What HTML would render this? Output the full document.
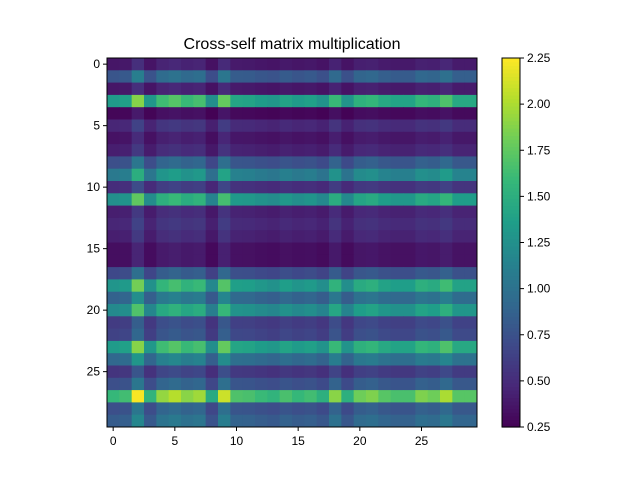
<!DOCTYPE html>
<html><head><meta charset="utf-8"><style>
body{margin:0;background:#fff;font-family:"Liberation Sans",sans-serif;}
svg text{font-family:"Liberation Sans",sans-serif;fill:#000;}
</style></head><body>
<svg id="chart" width="640" height="480" xmlns="http://www.w3.org/2000/svg">
<text x="292" y="49" font-size="16" text-anchor="middle">Cross-self matrix multiplication</text>
<g id="cells"></g><g id="axes"></g><g id="cbar"></g>
</svg>
<script>
const rowLevels=[0.4,0.85,0.4,1.45,0.3,0.5,0.38,0.45,0.8,1.15,0.55,1.35,0.45,0.5,0.45,0.35,0.35,0.75,1.4,0.95,1.3,0.65,0.7,1.45,1.0,0.6,0.8,1.72,0.8,0.9];
const colLevels=[0.92,0.95,1.3,0.9,1.12,1.18,1.1,1.14,0.85,1.22,0.98,0.97,0.93,0.9,0.97,0.92,0.95,0.88,1.1,0.88,1.05,1.08,1.0,0.97,0.97,1.08,1.05,1.16,1.0,1.0];
const tickVals=[0,5,10,15,20,25];
const cbarTicks=[0.25,0.5,0.75,1.0,1.25,1.5,1.75,2.0,2.25];
const vmin=0.25,vmax=2.25;
const NS='http://www.w3.org/2000/svg';
const L=107,T=58,W=370,H=369,n=rowLevels.length,m=colLevels.length;
const cw=W/m,ch=H/n;
const xs=j=>L+j*cw, ys=i=>T+i*ch;
const vir=[[68,1,84],[72,40,120],[62,73,137],[49,104,142],[38,130,142],[31,158,137],[53,183,121],[109,205,89],[180,222,44],[253,231,37]];
function color(v){let t=Math.max(0,Math.min(1,(v-vmin)/(vmax-vmin)))*(vir.length-1);let k=Math.min(vir.length-2,Math.floor(t)),f=t-k;const c=vir[k].map((a,q)=>Math.round(a+(vir[k+1][q]-a)*f));return `rgb(${c})`;}
function el(tag,attrs,parent){const e=document.createElementNS(NS,tag);for(const a in attrs)e.setAttribute(a,attrs[a]);parent.appendChild(e);return e;}
const cells=document.getElementById('cells');
for(let i=0;i<n;i++)for(let j=0;j<m;j++){
 const v=rowLevels[i]*colLevels[j];
 const r=el('rect',{x:xs(j),y:ys(i),width:cw+0.5,height:ch+0.5,fill:color(v)},cells);
 
 
}
const ax=document.getElementById('axes');
const frame=el('rect',{x:L,y:T,width:W,height:H,fill:'none',stroke:'#000','stroke-width':1},ax);


tickVals.forEach(t=>{
 const x=xs(t)+cw/2,y=ys(t)+ch/2;
 el('line',{x1:x,x2:x,y1:T+H,y2:T+H+4,stroke:'#000'},ax);
 const tx=el('text',{x:x,y:T+H+18,'font-size':12,'text-anchor':'middle'},ax);tx.textContent=t;
 
 
 el('line',{x1:L-4,x2:L,y1:y,y2:y,stroke:'#000'},ax);
 const ty=el('text',{x:L-7,y:y+4,'font-size':12,'text-anchor':'end'},ax);ty.textContent=t;
 
 
});
const cb=document.getElementById('cbar');
const CL=502,CW=18,CT=58,CH=369;
for(let k=0;k<100;k++){
 const v=vmin+(vmax-vmin)*(k+0.5)/100;
 el('rect',{x:CL,y:CT+CH-(k+1)*CH/100,width:CW,height:CH/100+0.6,fill:color(v)},cb);
}
const cf=el('rect',{x:CL,y:CT,width:CW,height:CH,fill:'none',stroke:'#000'},cb);


cbarTicks.forEach(t=>{
 const y=CT+CH-(t-vmin)/(vmax-vmin)*CH;
 el('line',{x1:CL+CW,x2:CL+CW+4,y1:y,y2:y,stroke:'#000'},cb);
 const tx=el('text',{x:CL+CW+7,y:y+4,'font-size':12},cb);tx.textContent=t.toFixed(2);
 
 
});
</script>
</body></html>
